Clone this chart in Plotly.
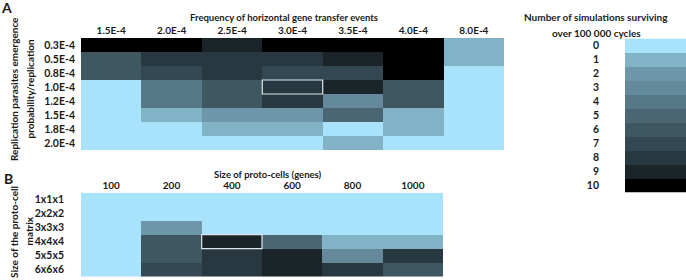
import plotly.graph_objects as go

# ---------------- data ----------------
hgt_freq = ["1.5E-4", "2.0E-4", "2.5E-4", "3.0E-4", "3.5E-4", "4.0E-4", "8.0E-4"]
parasite_prob = ["0.3E-4", "0.5E-4", "0.8E-4", "1.0E-4", "1.2E-4", "1.5E-4", "1.8E-4", "2.0E-4"]
survivors_a = [
    [10, 10, 9, 10, 10, 10, 1],
    [6, 8, 8, 8, 9, 10, 1],
    [6, 7, 8, 7, 7, 10, 0],
    [0, 4, 6, 8, 9, 6, 0],
    [0, 4, 6, 8, 3, 6, 0],
    [0, 1, 2, 2, 5, 1, 0],
    [0, 0, 1, 1, 0, 1, 0],
    [0, 0, 0, 0, 1, 0, 0],
]
highlight_a = ("3.0E-4", "1.0E-4")

cell_size = ["100", "200", "400", "600", "800", "1000"]
matrix_size = ["1x1x1", "2x2x2", "3x3x3", "4x4x4", "5x5x5", "6x6x6"]
survivors_b = [
    [0, 0, 0, 0, 0, 0],
    [0, 0, 0, 0, 0, 0],
    [0, 2, 0, 0, 0, 0],
    [0, 6, 9, 5, 1, 1],
    [0, 6, 8, 9, 3, 8],
    [0, 7, 8, 9, 8, 6],
]
highlight_b = ("400", "4x4x4")

legend_levels = list(range(11))
level_colors = ["#A8E3FB", "#82B2C6", "#6E98AA", "#64899A", "#577987", "#4A6673",
                "#3E5761", "#334852", "#273840", "#1B2529", "#000000"]

# ---------------- styling ----------------
W, H = 686, 280
FONT = "Lato"
TXT = "#1a1a1a"

n = len(level_colors)
cscale = []
for i, c in enumerate(level_colors):
    cscale.append([i / n, c])
    cscale.append([(i + 1) / n, c])


def px_x(p):
    return p / W


def px_y(p):
    return 1 - p / H


fig = go.Figure()

common = dict(colorscale=cscale, zmin=-0.5, zmax=10.5, showscale=False, xgap=0, ygap=0,
              hoverinfo="skip")
fig.add_trace(go.Heatmap(z=survivors_a, x=hgt_freq, y=parasite_prob, xaxis="x", yaxis="y", **common))
fig.add_trace(go.Heatmap(z=survivors_b, x=cell_size, y=matrix_size, xaxis="x2", yaxis="y2", **common))
fig.add_trace(go.Heatmap(z=[[v] for v in legend_levels], x=["k"], y=[str(v) for v in legend_levels],
                         xaxis="x3", yaxis="y3", **common))

tickfont_x = dict(family=FONT, size=10, color=TXT, weight="bold")
tickfont_y = dict(family=FONT, size=10.5, color=TXT, weight="bold")

ax_common = dict(showgrid=False, zeroline=False, showline=False, ticks="", automargin=False)

fig.update_layout(
    width=W, height=H, margin=dict(l=0, r=0, t=0, b=0),
    paper_bgcolor="white", plot_bgcolor="white",
    xaxis=dict(domain=[px_x(81), px_x(504)], side="top", tickfont=tickfont_x, anchor="y",
               ticklabelstandoff=1, **ax_common),
    yaxis=dict(domain=[px_y(150), px_y(38)], autorange="reversed", tickfont=tickfont_y, anchor="x",
               ticklabelstandoff=5, **ax_common),
    xaxis2=dict(domain=[px_x(81), px_x(443)], side="top", tickfont=tickfont_x, anchor="y2",
                ticklabelstandoff=1, **ax_common),
    yaxis2=dict(domain=[px_y(276.7), px_y(192.7)], autorange="reversed", tickfont=tickfont_y,
                anchor="x2", ticklabelstandoff=16, **ax_common),
    xaxis3=dict(domain=[px_x(625), px_x(686)], showticklabels=False, anchor="y3", **ax_common),
    yaxis3=dict(domain=[px_y(192.5), px_y(38.5)], autorange="reversed", tickfont=tickfont_y,
                anchor="x3", ticklabelstandoff=25, **ax_common),
)

# highlight boxes (category index based)
for (xs, ys, xcat, ycat, xr, yr) in [
    (hgt_freq, parasite_prob, highlight_a[0], highlight_a[1], "x", "y"),
    (cell_size, matrix_size, highlight_b[0], highlight_b[1], "x2", "y2"),
]:
    xi, yi = xs.index(xcat), ys.index(ycat)
    fig.add_shape(type="rect", xref=xr, yref=yr, x0=xi - 0.5, x1=xi + 0.5, y0=yi - 0.5, y1=yi + 0.5,
                  line=dict(color="#DDE6EA", width=1.2), fillcolor="rgba(0,0,0,0)")

tfont = dict(family=FONT, size=10, color=TXT, weight="bold")


def ann(text, x, y, angle=0, size=None):
    f = dict(tfont)
    if size:
        f["size"] = size
    fig.add_annotation(text=text, x=px_x(x), y=px_y(y), xref="paper", yref="paper", showarrow=False,
                       textangle=angle, font=f, xanchor="center", yanchor="middle", align="center")


ann("A", 7, 7, size=14)
ann("B", 8, 178, size=14)
ann("Frequency of horizontal gene transfer events", 284, 17, size=9.5)
ann("Size of proto-cells (genes)", 268, 174, size=9.5)
ann("Replication parasites emergence", 14, 89, angle=-90)
ann("probability/replication", 29.5, 89, angle=-90)
ann("Size of the proto-cell", 14, 232, angle=-90)
ann("matrix", 28.5, 231, angle=-90)
ann("Number of simulations surviving", 596, 17)
ann("over 100 000 cycles", 596, 33)

fig.write_html("out.html", config={"displayModeBar": False},
               post_script="document.body.style.margin='0px';document.body.style.overflow='hidden';")
